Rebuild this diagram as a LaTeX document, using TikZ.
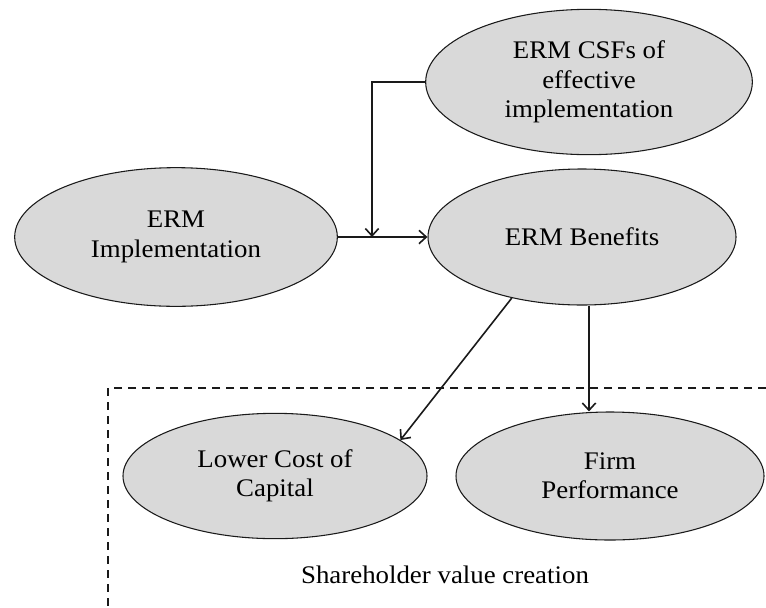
\documentclass[tikz,border=0pt]{standalone}
\usepackage{fontspec}
\setmainfont{Liberation Serif}[FakeStretch=1.06]
\usetikzlibrary{shapes.geometric,arrows.meta}
\definecolor{ellfill}{HTML}{D9D9D9}
\definecolor{linecol}{HTML}{1A1A1A}
\begin{document}
\begin{tikzpicture}[x=0.75pt,y=-0.75pt,
  ell/.style={ellipse,draw=linecol,line width=0.8pt,fill=ellfill,inner sep=0pt,align=center,
    font=\rmfamily\fontsize{19}{22}\selectfont},
  arr/.style={draw=linecol,line width=1.2pt,-{Straight Barb[length=5.5pt,width=10pt,line width=1.2pt]}},
  txt/.style={font=\rmfamily\fontsize{19}{22}\selectfont}]
\useasboundingbox (0,0) rectangle (766,607);
\node[ell,minimum width=245pt,minimum height=109pt] (csf) at (589,82) {ERM CSFs of\\effective\\implementation};
\node[ell,minimum width=242pt,minimum height=104pt] (impl) at (176,237) {ERM\\Implementation};
\node[ell,minimum width=231pt,minimum height=102pt] (ben) at (582,237) {ERM Benefits};
\node[ell,minimum width=228pt,minimum height=94pt] (low) at (275,476) {Lower Cost of\\Capital};
\node[ell,minimum width=231pt,minimum height=96pt] (firm) at (610,476) {Firm\\Performance};
\coordinate (j) at (372,237);
\draw[arr] (impl.east) -- (ben.west);
\draw[arr] (csf.west) -| (j);
\draw[arr] (ben.221) -- (low.16);
\draw[arr] (ben.south) ++(7,0) coordinate (bs) -- (bs |- firm.north);
\draw[linecol,line width=1.1pt,dash pattern=on 6pt off 4.5pt] (766,388) -| (108,607);
\node[txt] (shv) at (445,575) {Shareholder value creation};
\end{tikzpicture}
\end{document}
